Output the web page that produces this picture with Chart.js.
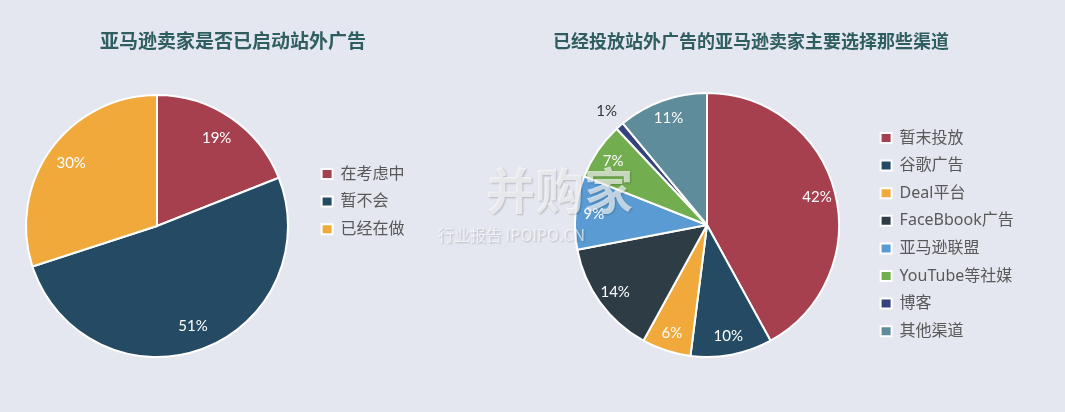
<!DOCTYPE html>
<html>
<head>
<meta charset="utf-8">
<script src="https://cdn.jsdelivr.net/npm/chart.js@4.4.0/dist/chart.umd.min.js"></script>
<style>
  html, body { margin: 0; padding: 0; background: #e4e6f0; }
  #wrap { position: relative; width: 1065px; height: 412px; overflow: hidden; }
  canvas { position: absolute; top: 0; }
  .title { position: absolute; top: 28px; line-height: 24px; white-space: nowrap;
    font-family: "Noto Sans CJK SC", sans-serif; font-weight: bold; color: #2f5e60; }
  .wm { position: absolute; white-space: nowrap; pointer-events: none;
    font-family: "Noto Sans CJK SC", sans-serif; color: rgba(255,255,255,0.65);
    text-shadow: 1px 1px 2px rgba(0,0,0,0.2); }
</style>
</head>
<body>
<div id="wrap">
  <canvas id="left" width="532" height="412" style="left:0"></canvas>
  <canvas id="right" width="533" height="412" style="left:532px"></canvas>
  <div class="title" style="left:100px;font-size:19px">亚马逊卖家是否已启动站外广告</div>
  <div class="title" style="left:553px;font-size:18px">已经投放站外广告的亚马逊卖家主要选择那些渠道</div>
  <div class="wm" style="left:486px;top:160px;font-size:49px;font-weight:bold;line-height:56px">并购家</div>
  <div class="wm" style="left:438px;top:224px;font-size:16px;line-height:20px">行业报告 IPOIPO.CN</div>
</div>
<script>
const FONT = 'Lato, "Noto Sans CJK SC", sans-serif';
const LEGEND_FONT = '"Noto Sans", "Noto Sans CJK SC", sans-serif';

// left pie: has the seller started off-site ads
const leftLabels = ['在考虑中', '暂不会', '已经在做'];
const leftValues = [19, 51, 30];
const leftColors = ['#a6404f', '#244b63', '#f2a93b'];

// right pie: channels chosen
const rightLabels = ['暂末投放', '谷歌广告', 'Deal平台', 'FaceBbook广告', '亚马逊联盟', 'YouTube等社媒', '博客', '其他渠道'];
const rightValues = [42, 10, 6, 14, 9, 7, 1, 11];
const rightColors = ['#a6404f', '#244b63', '#f2a93b', '#2e3c46', '#5a9bd3', '#72ad4f', '#34437c', '#5f8c9a'];

// percentage labels on the slices
const pctLabels = {
  id: 'pctLabels',
  beforeLayout(chart, args, opts) {
    // give the legend a fixed width so the pie lands where it should
    const legend = chart.legend;
    if (legend && !legend._fixed) {
      const fit = legend.fit;
      legend.fit = function () { fit.call(this); this.width = opts.legendWidth; };
      legend._fixed = true;
    }
  },
  afterDatasetsDraw(chart, args, opts) {
    const ctx = chart.ctx;
    const meta = chart.getDatasetMeta(0);
    const values = chart.data.datasets[0].data;
    ctx.save();
    ctx.font = '15px ' + FONT;
    ctx.textAlign = 'center';
    ctx.textBaseline = 'middle';
    meta.data.forEach((arc, i) => {
      const p = arc.getProps(['x', 'y', 'startAngle', 'endAngle', 'outerRadius'], true);
      const mid = (p.startAngle + p.endAngle) / 2;
      const small = values[i] < 3;
      const r = p.outerRadius * (small ? opts.outside : opts.inside);
      ctx.fillStyle = small ? '#333333' : '#ffffff';
      ctx.fillText(values[i] + '%', p.x + Math.cos(mid) * r, p.y + Math.sin(mid) * r);
    });
    ctx.restore();
  }
};

function makePie(id, labels, values, colors, pad, legendWidth, legendTop, inside) {
  return new Chart(document.getElementById(id), {
    type: 'pie',
    data: {
      labels: labels,
      datasets: [{
        data: values,
        backgroundColor: colors,
        borderColor: '#ffffff',
        borderWidth: 2
      }]
    },
    options: {
      responsive: false,
      animation: false,
      layout: { padding: pad },
      plugins: {
        legend: {
          position: 'right',
          align: 'start',
          title: { display: true, text: '', font: { size: 1 }, padding: { top: legendTop, bottom: 0 } },
          labels: {
            boxWidth: 11,
            boxHeight: 10,
            padding: 11.6,
            color: '#595959',
            font: { size: 16, family: LEGEND_FONT }
          }
        },
        tooltip: { enabled: false },
        pctLabels: { inside: inside, outside: 1.15, legendWidth: legendWidth }
      }
    },
    plugins: [pctLabels]
  });
}

makePie('left', leftLabels, leftValues, leftColors,
  { top: 94, bottom: 54, left: 4, right: 22 }, 200, 59.2, 0.81);
makePie('right', rightLabels, rightValues, rightColors,
  { top: 92, bottom: 54, left: 13, right: 16 }, 180, 25.2, 0.86);
</script>
</body>
</html>
